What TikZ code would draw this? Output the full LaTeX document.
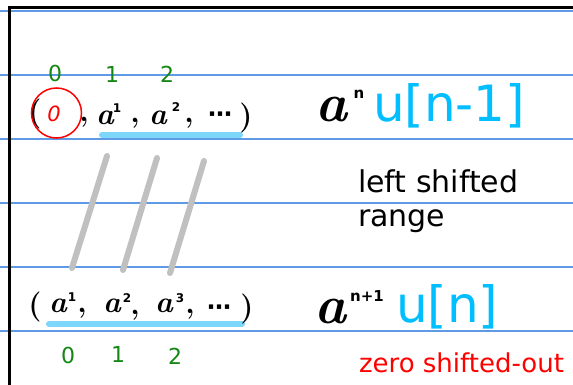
\documentclass[tikz,border=0pt]{standalone}
\usepackage{fontspec}
\setsansfont{DejaVu Sans}
\definecolor{ruleblue}{RGB}{95,155,228}
\definecolor{skyc}{RGB}{0,190,255}
\definecolor{ulc}{RGB}{125,215,250}
\definecolor{grn}{RGB}{20,135,20}
\definecolor{pencil}{RGB}{192,192,192}
\begin{document}
\begin{tikzpicture}[x=1pt,y=-1pt,
  every node/.style={inner sep=0pt, outer sep=0pt},
  rule/.style={ruleblue, line width=1.3pt},
  frame/.style={black, line width=3pt},
  hw/.style={font=\rmfamily\bfseries\itshape\fontsize{30}{30}\selectfont, anchor=base},
  hwp/.style={font=\rmfamily\bfseries\fontsize{30}{30}\selectfont, anchor=base},
  hwdots/.style={font=\sffamily\bfseries\fontsize{24}{24}\selectfont, anchor=base},
  hwbig/.style={font=\rmfamily\bfseries\itshape\fontsize{54}{54}\selectfont, anchor=base},
  hwsup/.style={font=\sffamily\bfseries\fontsize{12}{12}\selectfont},
  hwsupbig/.style={font=\sffamily\bfseries\fontsize{15}{15}\selectfont},
  idx/.style={grn, font=\sffamily\fontsize{22}{22}\selectfont},
  sig/.style={skyc, font=\sffamily\fontsize{50}{50}\selectfont, anchor=base west},
  note/.style={font=\sffamily\fontsize{30}{30}\selectfont, anchor=base west},
  slash/.style={pencil, line width=6pt, line cap=round},
  ul/.style={ulc, line width=6pt, line cap=round}]
\useasboundingbox (0,0) rectangle (573,385);
\fill[white] (0,0) rectangle (573,385);
% ruled lines
\foreach \yy in {11,75,139,203,267,331} {\draw[rule] (0,\yy) -- (573,\yy);}
% frame
\draw[frame] (9.5,385) -- (9.5,7.5) -- (573,7.5);
% underlines
\coordinate (ut1) at (102,135); \coordinate (ut2) at (240,135);
\coordinate (ub1) at (49,324); \coordinate (ub2) at (242,324);
\draw[ul] (ut1) -- (ut2);
\draw[ul] (ub1) -- (ub2);
% top green indices
\node[idx] (ti0) at (55,73) {0};
\node[idx] (ti1) at (112,74) {1};
\node[idx] (ti2) at (167,74) {2};
% top sequence
\node[hwp] (tlp) at (35,122) {(};
\node[circle, draw=red, line width=1.5pt, minimum size=50pt] (zc) at (56.5,113) {};
\node[red, font=\sffamily\itshape\fontsize{21}{21}\selectfont] (z0) at (54,114) {0};
\node[hwp] (tc1) at (84,122) {,};
\node[hw] (ta1) at (105,125) {a};
\node[hwsup] (ts1) at (117,108) {1};
\node[hwp] (tc2) at (135,123) {,};
\node[hw] (ta2) at (158,125) {a};
\node[hwsup] (ts2) at (176,107) {2};
\node[hwp] (tc3) at (189,123) {,};
\node[hwdots] (tdots) at (220,123) {⋯};
\node[hwp] (trp) at (246,126) {)};
% bottom sequence
\node[hwp] (blp) at (35,314) {(};
\node[hw] (ba1) at (58,312) {a};
\node[hwsup] (bs1) at (72,297) {1};
\node[hwp] (bc1) at (82,312) {,};
\node[hw] (ba2) at (112,312) {a};
\node[hwsup] (bs2) at (127,298) {2};
\node[hwp] (bc2) at (135,314) {,};
\node[hw] (ba3) at (164,312) {a};
\node[hwsup] (bs3) at (180,298) {3};
\node[hwp] (bc3) at (190,313) {,};
\node[hwdots] (bdots) at (219,315) {⋯};
\node[hwp] (brp) at (247,316) {)};
% bottom green indices
\node[idx] (bi0) at (68,355) {0};
\node[idx] (bi1) at (118,354) {1};
\node[idx] (bi2) at (175,356) {2};
% pencil slashes
\coordinate (s1t) at (107,156); \coordinate (s1b) at (72,268);
\coordinate (s2t) at (157,158); \coordinate (s2b) at (123,270);
\coordinate (s3t) at (204,161); \coordinate (s3b) at (170,273);
\draw[slash] (s1t) -- (s1b);
\draw[slash] (s2t) -- (s2b);
\draw[slash] (s3t) -- (s3b);
% right side
\node[hwbig] (an) at (331,122) {a};
\node[hwsupbig] (ansup) at (359,94) {n};
\node[sig] (un1) at (373,122) {u[n-1]};
\node[note] (ls) at (358,192) {left shifted};
\node[note] (rg) at (358,226) {range};
\node[hwbig] (an1) at (330,323) {a};
\node[hwsupbig] (an1sup) at (367,296) {n+1};
\node[sig] (un) at (396,322) {u[n]};
\node[red, font=\sffamily\fontsize{26}{26}\selectfont, anchor=base west] (zs) at (359,372) {zero shifted-out};
\end{tikzpicture}
\end{document}
